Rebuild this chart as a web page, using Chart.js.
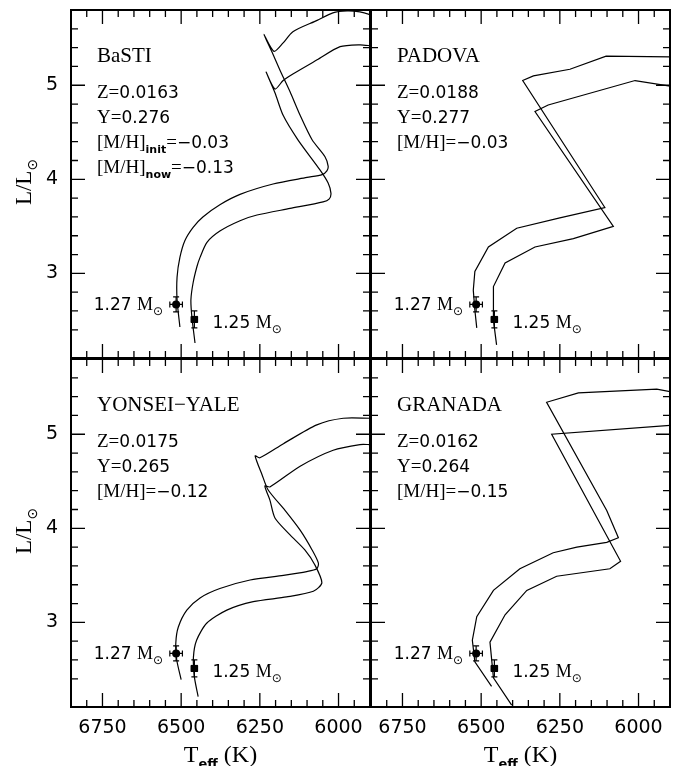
<!DOCTYPE html>
<html>
<head>
<meta charset="utf-8">
<script src="https://cdn.jsdelivr.net/npm/chart.js@4.4.0/dist/chart.umd.min.js"></script>
<style>
  html, body { margin: 0; padding: 0; background: #fff; }
  #wrap { position: relative; width: 674px; height: 766px; }
  #wrap canvas { position: absolute; left: 0; top: 0; }
</style>
</head>
<body>
<div id="wrap">
  <canvas id="c0" width="674" height="766"></canvas>
  <canvas id="c1" width="674" height="766"></canvas>
  <canvas id="c2" width="674" height="766"></canvas>
  <canvas id="c3" width="674" height="766"></canvas>
</div>
<script>
"use strict"

// axes
const tMin = 5900, tMax = 6850;
const lMin = 2.1, lMax = 5.8;
const xTickLabels = [6750, 6500, 6250, 6000];
const yTickLabels = [3, 4, 5];

// panel texts
const panelNames = ["BaSTI", "PADOVA", "YONSEI\u2212YALE", "GRANADA"];
const panelZ = ["0.0163", "0.0188", "0.0175", "0.0162"];
const panelY = ["0.276", "0.277", "0.265", "0.264"];
const panelMH = ["\u22120.03", "\u22120.03", "\u22120.12", "\u22120.15"];
const bastiMHnow = "\u22120.13";

// the two stars
const starMass = ["1.27", "1.25"];
const starTeff = [6516, 6458];
const starTeffErr = [20, 10];
const starL = [2.67, 2.51];
const starLErr = [0.08, 0.09];

// BaSTI tracks
const bastiT127 = [6504, 6513, 6513, 6504, 6488, 6462, 6431, 6377, 6313, 6208, 6100, 6052, 6037, 6033, 6043, 6084, 6122, 6154, 6186, 6211, 6237, 6205, 6176, 6145, 6068, 6018, 5973, 5932, 5900, 5880];
const bastiL127 = [2.43, 2.72, 2.96, 3.17, 3.35, 3.49, 3.60, 3.73, 3.84, 3.95, 4.02, 4.05, 4.09, 4.14, 4.24, 4.42, 4.68, 4.93, 5.16, 5.35, 5.54, 5.36, 5.45, 5.57, 5.69, 5.77, 5.79, 5.78, 5.75, 5.72];
const bastiT125 = [6456, 6466, 6469, 6462, 6450, 6440, 6418, 6377, 6313, 6259, 6154, 6049, 6030, 6024, 6033, 6059, 6129, 6176, 6202, 6230, 6202, 6176, 6145, 6068, 5995, 5932, 5900, 5880];
const bastiL125 = [2.26, 2.54, 2.72, 2.90, 3.07, 3.17, 3.33, 3.45, 3.56, 3.62, 3.69, 3.76, 3.79, 3.85, 3.96, 4.10, 4.42, 4.68, 4.92, 5.14, 4.96, 5.05, 5.12, 5.27, 5.41, 5.43, 5.42, 5.41];

// PADOVA tracks
const padovaT127 = [6514, 6520, 6525, 6520, 6477, 6387, 6250, 6107, 6368, 6334, 6218, 6103, 5880];
const padovaL127 = [2.42, 2.61, 2.82, 3.02, 3.28, 3.48, 3.59, 3.70, 5.05, 5.10, 5.17, 5.31, 5.30];
const padovaT125 = [6451, 6461, 6461, 6424, 6329, 6207, 6080, 6329, 6287, 6011, 5880];
const padovaL125 = [2.24, 2.50, 2.86, 3.11, 3.28, 3.37, 3.50, 4.72, 4.79, 5.05, 4.98];

// YONSEI-YALE tracks
const yyT127 = [6500, 6514, 6517, 6509, 6482, 6440, 6377, 6281, 6175, 6101, 6069, 6064, 6084, 6122, 6170, 6224, 6243, 6265, 6250, 6175, 6069, 5985, 5900, 5880];
const yyL127 = [2.39, 2.60, 2.78, 2.95, 3.13, 3.26, 3.36, 3.45, 3.50, 3.54, 3.57, 3.63, 3.77, 3.98, 4.19, 4.41, 4.57, 4.77, 4.75, 4.90, 5.10, 5.17, 5.17, 5.17];
const yyT125 = [6446, 6458, 6461, 6451, 6419, 6355, 6271, 6165, 6080, 6053, 6075, 6107, 6154, 6202, 6218, 6234, 6218, 6122, 6017, 5932, 5900, 5880];
const yyL125 = [2.21, 2.42, 2.63, 2.81, 2.99, 3.13, 3.22, 3.27, 3.33, 3.42, 3.61, 3.77, 3.93, 4.11, 4.30, 4.45, 4.44, 4.66, 4.83, 4.89, 4.89, 4.89];

// GRANADA tracks
const granT127 = [6467, 6520, 6528, 6514, 6461, 6377, 6271, 6196, 6101, 6064, 6101, 6292, 6191, 5942, 5880];
const granL127 = [2.32, 2.58, 2.81, 3.06, 3.34, 3.57, 3.74, 3.80, 3.85, 3.90, 4.19, 5.34, 5.44, 5.48, 5.44];
const granT125 = [6403, 6461, 6472, 6424, 6355, 6260, 6091, 6057, 6276, 5880];
const granL125 = [2.12, 2.41, 2.79, 3.08, 3.34, 3.49, 3.57, 3.65, 5.00, 5.10];

const SERIF = '"Liberation Serif", "Times New Roman", serif';
const SANS = '"DejaVu Sans", sans-serif';

function zip(ts, ls) {
    return ts.map((t, i) => ({x: t, y: ls[i]}));
}

// draws a list of [text, font, dy] pieces one after the other
function drawRuns(ctx, runs, x, y, align) {
    let w = 0;
    runs.forEach(r => { ctx.font = r[1]; w += ctx.measureText(r[0]).width; });
    if (align === 'right') x -= w;
    if (align === 'center') x -= w / 2;
    ctx.textAlign = 'left';
    ctx.textBaseline = 'alphabetic';
    runs.forEach(r => {
        ctx.font = r[1];
        ctx.fillText(r[0], x, y + (r[2] || 0));
        x += ctx.measureText(r[0]).width;
    });
}

const panelPlugin = {
    id: 'panel',
    afterDatasetsDraw(chart, args, opts) {
        const ctx = chart.ctx;
        const a = chart.chartArea;
        const xs = chart.scales.x, ys = chart.scales.y;
        const i = opts.index;
        ctx.save();
        ctx.strokeStyle = '#000';
        ctx.fillStyle = '#000';

        // error bars
        ctx.lineWidth = 1.2;
        ctx.beginPath();
        for (let k = 0; k < starTeff.length; k++) {
            const px = xs.getPixelForValue(starTeff[k]);
            const py = ys.getPixelForValue(starL[k]);
            const x0 = xs.getPixelForValue(starTeff[k] + starTeffErr[k]);
            const x1 = xs.getPixelForValue(starTeff[k] - starTeffErr[k]);
            const y0 = ys.getPixelForValue(starL[k] + starLErr[k]);
            const y1 = ys.getPixelForValue(starL[k] - starLErr[k]);
            ctx.moveTo(x0, py); ctx.lineTo(x1, py);
            ctx.moveTo(x0, py - 3); ctx.lineTo(x0, py + 3);
            ctx.moveTo(x1, py - 3); ctx.lineTo(x1, py + 3);
            ctx.moveTo(px, y0); ctx.lineTo(px, y1);
            ctx.moveTo(px - 3, y0); ctx.lineTo(px + 3, y0);
            ctx.moveTo(px - 3, y1); ctx.lineTo(px + 3, y1);
        }
        ctx.stroke();

        // inward ticks on all four sides
        ctx.lineWidth = 1.3;
        ctx.beginPath();
        xs.ticks.forEach(t => {
            if (t.value <= tMin || t.value >= tMax) return;
            const px = xs.getPixelForValue(t.value);
            const len = t.value % 250 === 0 ? 14 : 7;
            ctx.moveTo(px, a.bottom); ctx.lineTo(px, a.bottom - len);
            ctx.moveTo(px, a.top); ctx.lineTo(px, a.top + len);
        });
        ys.ticks.forEach(t => {
            if (t.value <= lMin + 1e-6 || t.value >= lMax - 1e-6) return;
            const py = ys.getPixelForValue(t.value);
            const len = Math.abs(t.value - Math.round(t.value)) < 1e-6 ? 14 : 7;
            ctx.moveTo(a.left, py); ctx.lineTo(a.left + len, py);
            ctx.moveTo(a.right, py); ctx.lineTo(a.right - len, py);
        });
        ctx.stroke();

        // frame
        ctx.lineWidth = 2;
        ctx.strokeRect(a.left, a.top, a.right - a.left, a.bottom - a.top);

        // texts inside the panel
        const letter = '19px ' + SERIF;
        const digit = '17px ' + SANS;
        const sub = 'bold 11px ' + SANS;
        const tx = a.left + 26;
        drawRuns(ctx, [[panelNames[i], '21px ' + SERIF]], tx, a.top + 52);
        drawRuns(ctx, [['Z=', letter], [panelZ[i], digit]], tx, a.top + 88);
        drawRuns(ctx, [['Y=', letter], [panelY[i], digit]], tx, a.top + 113);
        if (i === 0) {
            drawRuns(ctx, [['[M/H]', letter], ['init', sub, 5], ['=', letter], [panelMH[i], digit]], tx, a.top + 138);
            drawRuns(ctx, [['[M/H]', letter], ['now', sub, 5], ['=', letter], [bastiMHnow, digit]], tx, a.top + 163);
        } else {
            drawRuns(ctx, [['[M/H]=', letter], [panelMH[i], digit]], tx, a.top + 138);
        }

        // star labels next to the points
        const massRuns = m => [[m + ' ', digit], ['M', '18px ' + SERIF], ['\u2299', '12px ' + SANS, 5]];
        const p0x = xs.getPixelForValue(starTeff[0]), p0y = ys.getPixelForValue(starL[0]);
        const p1x = xs.getPixelForValue(starTeff[1]), p1y = ys.getPixelForValue(starL[1]);
        drawRuns(ctx, massRuns(starMass[0]), p0x - 13, p0y + 6, 'right');
        drawRuns(ctx, massRuns(starMass[1]), p1x + 18, p1y + 9);

        // axis titles
        if (opts.yTitle) {
            ctx.save();
            ctx.translate(31, (a.top + a.bottom) / 2 - 2);
            ctx.rotate(-Math.PI / 2);
            drawRuns(ctx, [['L/L', '23px ' + SERIF], ['\u2299', '14px ' + SANS, 6]], 0, 0, 'center');
            ctx.restore();
        }
        if (opts.xTitle) {
            drawRuns(ctx, [['T', '24px ' + SERIF], ['eff', 'bold 13px ' + SANS, 6], [' (K)', '24px ' + SERIF]],
                (a.left + a.right) / 2, 762, 'center');
        }
        ctx.restore();
    }
};

// fixes a scale to a given thickness so the plot area lands where wanted
function fitTo(size) {
    return s => {
        if (s.isHorizontal()) s.height = size; else s.width = size;
        s.paddingLeft = 0; s.paddingRight = 0; s.paddingTop = 0; s.paddingBottom = 0;
    };
}

const panels = [
    {id: 'c0', area: [71, 10, 370, 358], tracks: [bastiT127, bastiL127, bastiT125, bastiL125], tension: 0.25, xLab: false, yLab: true},
    {id: 'c1', area: [371, 10, 670, 358], tracks: [padovaT127, padovaL127, padovaT125, padovaL125], tension: 0, xLab: false, yLab: false},
    {id: 'c2', area: [71, 359, 370, 707], tracks: [yyT127, yyL127, yyT125, yyL125], tension: 0.25, xLab: true, yLab: true},
    {id: 'c3', area: [371, 359, 670, 707], tracks: [granT127, granL127, granT125, granL125], tension: 0, xLab: true, yLab: false}
];

panels.forEach((p, i) => {
    const ctx = document.getElementById(p.id).getContext('2d');
    const lineStyle = {showLine: true, pointRadius: 0, borderColor: '#000', borderWidth: 1.2, tension: p.tension, fill: false};
    const below = 766 - p.area[3];
    const xSize = p.xLab ? below : 0;
    const ySize = p.yLab ? p.area[0] : 0;
    new Chart(ctx, {
        type: 'scatter',
        data: {
            datasets: [
                Object.assign({data: zip(p.tracks[0], p.tracks[1])}, lineStyle),
                Object.assign({data: zip(p.tracks[2], p.tracks[3])}, lineStyle),
                {
                    data: zip(starTeff, starL),
                    pointStyle: ['circle', 'rect'],
                    pointRadius: [4, 5],
                    backgroundColor: '#000',
                    borderColor: '#000',
                    borderWidth: 0
                }
            ]
        },
        options: {
            responsive: false,
            animation: false,
            devicePixelRatio: 1,
            events: [],
            layout: {
                autoPadding: false,
                padding: {left: p.area[0] - ySize, top: p.area[1], right: 674 - p.area[2], bottom: below - xSize}
            },
            plugins: {
                legend: {display: false},
                tooltip: {enabled: false},
                panel: {index: i, xTitle: p.xLab, yTitle: p.yLab}
            },
            scales: {
                x: {
                    type: 'linear', min: tMin, max: tMax, reverse: true,
                    grid: {display: false, drawTicks: false},
                    border: {display: false},
                    ticks: {
                        display: p.xLab, stepSize: 50, autoSkip: false, maxRotation: 0, padding: 10,
                        color: '#000', font: {family: 'DejaVu Sans', size: 19},
                        callback: v => xTickLabels.includes(v) ? String(v) : ''
                    },
                    afterFit: fitTo(xSize)
                },
                y: {
                    type: 'linear', min: lMin, max: lMax,
                    grid: {display: false, drawTicks: false},
                    border: {display: false},
                    ticks: {
                        display: p.yLab, stepSize: 0.2, autoSkip: false, padding: 13,
                        color: '#000', font: {family: 'DejaVu Sans', size: 19},
                        callback: v => {
                            const r = Math.round(v * 10) / 10;
                            return yTickLabels.includes(r) ? String(r) : '';
                        }
                    },
                    afterFit: fitTo(ySize)
                }
            }
        },
        plugins: [panelPlugin]
    });
});
</script>
</body>
</html>
